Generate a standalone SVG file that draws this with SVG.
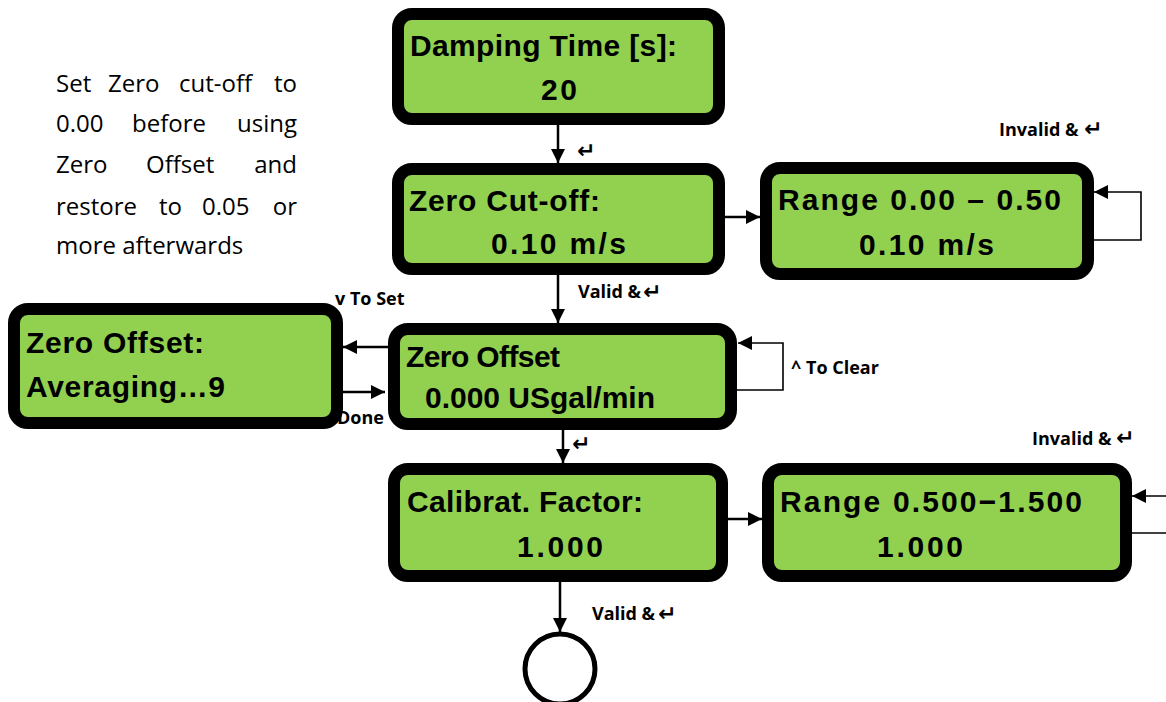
<svg xmlns="http://www.w3.org/2000/svg" width="1166" height="702" viewBox="0 0 1166 702">
<style>
.box{fill:#92D050;stroke:#000;stroke-width:12}
.big{font-family:"Liberation Sans",Arial,sans-serif;font-weight:bold;font-size:30px;fill:#000}
.lbl{font-family:"Open Sans","Liberation Sans",sans-serif;font-weight:bold;font-size:18px;fill:#000}
.ret{font-family:"DejaVu Sans",sans-serif;font-weight:bold;font-size:22px;fill:#000}
.note{font-family:"Open Sans","Liberation Sans",sans-serif;font-size:24px;fill:#000}
.con{stroke:#000;stroke-width:2.5;fill:none}
.thin{stroke:#000;stroke-width:1.6;fill:none}
</style>
<defs>
<marker id="ah" viewBox="0 0 14 14" markerWidth="14" markerHeight="14" refX="14" refY="7" orient="auto" markerUnits="userSpaceOnUse">
<path d="M0,0 L14,7 L0,14 z" fill="#000"/>
</marker>
</defs>
<rect width="1166" height="702" fill="#fff"/>

<g id="note">
<text class="note" y="92"><tspan x="56">Set</tspan><tspan x="108">Zero</tspan><tspan x="179">cut-off</tspan><tspan x="297" text-anchor="end">to</tspan></text>
<text class="note" y="132"><tspan x="56">0.00</tspan><tspan x="132">before</tspan><tspan x="297" text-anchor="end">using</tspan></text>
<text class="note" y="173"><tspan x="56">Zero</tspan><tspan x="146">Offset</tspan><tspan x="297" text-anchor="end">and</tspan></text>
<text class="note" y="215"><tspan x="56">restore</tspan><tspan x="159">to</tspan><tspan x="202">0.05</tspan><tspan x="297" text-anchor="end">or</tspan></text>
<text class="note" x="56" y="254">more afterwards</text>
</g>

<g id="damping">
<rect class="box" x="398" y="14" width="321" height="105" rx="14"/>
<text class="big" x="410" y="56" font-size="27" textLength="267" lengthAdjust="spacing">Damping Time [s]:</text>
<text class="big" x="541" y="100" textLength="36" lengthAdjust="spacing">20</text>
</g>

<g id="cutoff">
<rect class="box" x="398" y="169" width="321" height="100" rx="14"/>
<text class="big" x="409" y="211" textLength="191" lengthAdjust="spacing">Zero Cut-off:</text>
<text class="big" x="491" y="254" textLength="135" lengthAdjust="spacing">0.10 m/s</text>
</g>

<g id="range1">
<rect class="box" x="766" y="168" width="322" height="106" rx="14"/>
<text class="big" x="778" y="210" textLength="283" lengthAdjust="spacing">Range 0.00 – 0.50</text>
<text class="big" x="859" y="255" textLength="135" lengthAdjust="spacing">0.10 m/s</text>
</g>

<g id="offset">
<rect class="box" x="394" y="329" width="337" height="95" rx="14"/>
<text class="big" x="406" y="367" font-size="28" textLength="154" lengthAdjust="spacing">Zero Offset</text>
<text class="big" x="425" y="408" font-size="29" textLength="230" lengthAdjust="spacing">0.000 USgal/min</text>
</g>

<g id="averaging">
<rect class="box" x="14" y="309" width="323" height="114" rx="14"/>
<text class="big" x="26" y="353" textLength="178" lengthAdjust="spacing">Zero Offset:</text>
<text class="big" x="26" y="397" textLength="199" lengthAdjust="spacing">Averaging…9</text>
</g>

<g id="calib">
<rect class="box" x="394" y="469" width="328" height="107" rx="14"/>
<text class="big" x="407" y="512" textLength="236" lengthAdjust="spacing">Calibrat. Factor:</text>
<text class="big" x="517" y="557" textLength="86" lengthAdjust="spacing">1.000</text>
</g>

<g id="range2">
<rect class="box" x="768" y="469" width="358" height="107" rx="14"/>
<text class="big" x="780" y="512" textLength="302" lengthAdjust="spacing">Range 0.500−1.500</text>
<text class="big" x="877" y="557" textLength="86" lengthAdjust="spacing">1.000</text>
</g>

<g id="end">
<circle cx="560" cy="669" r="35" fill="#fff" stroke="#000" stroke-width="5"/>
</g>

<g id="connectors">
<line class="con" x1="558" y1="125" x2="558" y2="163" marker-end="url(#ah)"/>
<line class="con" x1="725" y1="217" x2="760" y2="217" marker-end="url(#ah)"/>
<polyline class="thin" points="1094,240 1141,240 1141,192 1094,192" marker-end="url(#ah)"/>
<line class="con" x1="558" y1="275" x2="558" y2="323" marker-end="url(#ah)"/>
<polyline class="thin" points="737,390 783,390 783,343 738,343" marker-end="url(#ah)"/>
<line class="con" x1="388" y1="347" x2="343" y2="347" marker-end="url(#ah)"/>
<line class="con" x1="343" y1="392" x2="385" y2="392" marker-end="url(#ah)"/>
<line class="con" x1="563" y1="430" x2="563" y2="463" marker-end="url(#ah)"/>
<line class="con" x1="728" y1="519" x2="762" y2="519" marker-end="url(#ah)"/>
<line class="thin" x1="1166" y1="496" x2="1132" y2="496" marker-end="url(#ah)"/>
<line class="thin" x1="1132" y1="533" x2="1166" y2="533"/>
<line class="con" x1="560" y1="582" x2="560" y2="632" marker-end="url(#ah)"/>
</g>

<g id="labels">
<text class="ret" x="577" y="158">↵</text>
<text class="lbl" x="578" y="298">Valid &amp;</text><text class="ret" x="643" y="299">↵</text>
<text class="lbl" x="999" y="136">Invalid &amp;</text><text class="ret" x="1084" y="136">↵</text>
<text class="lbl" x="335" y="305">v To Set</text>
<text class="lbl" x="337" y="424">Done</text>
<text class="lbl" x="791" y="374">^ To Clear</text>
<text class="ret" x="572" y="451">↵</text>
<text class="lbl" x="1032" y="445">Invalid &amp;</text><text class="ret" x="1116" y="445">↵</text>
<text class="lbl" x="592" y="620">Valid &amp;</text><text class="ret" x="658" y="621">↵</text>
</g>
</svg>
